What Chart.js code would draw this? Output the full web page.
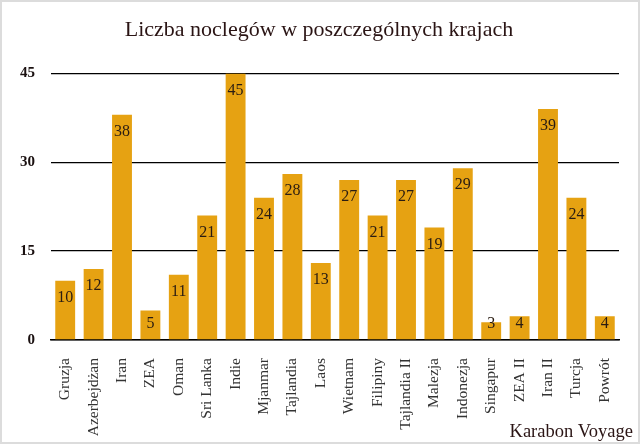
<!DOCTYPE html>
<html>
<head>
<meta charset="utf-8">
<script src="https://cdn.jsdelivr.net/npm/chart.js@4"></script>
<style>
  html, body { margin: 0; padding: 0; background: #fff; }
  #wrap { width: 636px; height: 440px; border: 2px solid #dcdcdc; position: relative; }
</style>
</head>
<body>
<div id="wrap"><canvas id="myChart" width="636" height="440"></canvas></div>
<script>
const countries = ['Gruzja', 'Azerbejdżan', 'Iran', 'ZEA', 'Oman', 'Sri Lanka', 'Indie', 'Mjanmar', 'Tajlandia', 'Laos',
    'Wietnam', 'Filipiny', 'Tajlandia II', 'Malezja', 'Indonezja', 'Singapur', 'ZEA II', 'Iran II', 'Turcja', 'Powrót'];
const nights = [10, 12, 38, 5, 11, 21, 45, 24, 28, 13, 27, 21, 27, 19, 29, 3, 4, 39, 24, 4];
const yTicks = [0, 15, 30, 45];

const serif = "'Liberation Serif', 'DejaVu Serif', serif";

// value labels inside the bars + signature in the corner
const barLabels = {
    id: 'barLabels',
    afterDatasetsDraw(chart) {
        const ctx = chart.ctx;
        const meta = chart.getDatasetMeta(0);
        ctx.save();
        ctx.font = '16px ' + serif;
        ctx.fillStyle = '#2a1c12';
        ctx.textAlign = 'center';
        ctx.textBaseline = 'top';
        meta.data.forEach((bar, i) => {
            // short bars: keep the number above the axis
            const y = Math.min(bar.y + 9, bar.base - 24);
            ctx.fillText(nights[i], bar.x, y);
        });
        ctx.font = '18.5px ' + serif;
        ctx.textAlign = 'right';
        ctx.textBaseline = 'alphabetic';
        ctx.fillStyle = '#2a1414';
        ctx.fillText('Karabon Voyage', 631, 435);
        ctx.restore();
    }
};

new Chart(document.getElementById('myChart'), {
    type: 'bar',
    data: {
        labels: countries,
        datasets: [{
            label: 'Liczba noclegów',
            data: nights,
            backgroundColor: 'rgb(230, 162, 18)',
            barPercentage: 0.7,
            categoryPercentage: 1.0
        }]
    },
    options: {
        responsive: false,
        animation: false,
        devicePixelRatio: 1,
        layout: { padding: { left: 17, right: 19, top: 0, bottom: 0 } },
        plugins: {
            legend: { display: false },
            tooltip: { enabled: false },
            title: {
                display: true,
                text: 'Liczba noclegów w poszczególnych krajach',
                color: '#2a1414',
                font: { family: serif, size: 22, weight: 'normal' },
                padding: { top: 15, bottom: 30 }
            }
        },
        scales: {
            x: {
                grid: { display: false },
                border: { color: '#000', width: 1.5 },
                afterFit: axis => { axis.height = 102; },
                ticks: {
                    color: '#333',
                    font: { family: serif, size: 15.5 },
                    minRotation: 90,
                    maxRotation: 90,
                    autoSkip: false,
                    padding: 10
                }
            },
            y: {
                min: 0,
                max: 45,
                afterBuildTicks: axis => { axis.ticks = yTicks.map(v => ({ value: v })); },
                afterFit: axis => { axis.width = 32; },
                grid: { color: '#000', lineWidth: 1.3, drawTicks: false },
                border: { display: false },
                ticks: {
                    color: '#1a1010',
                    font: { family: serif, size: 15, weight: 'bold' },
                    padding: 16
                }
            }
        }
    },
    plugins: [barLabels]
});
</script>
</body>
</html>
